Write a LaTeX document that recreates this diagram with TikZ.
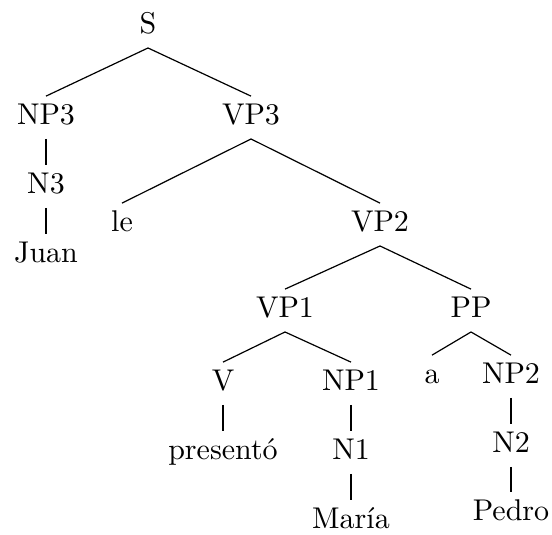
\documentclass[tikz,border=0pt]{standalone}

\begin{document}
\begin{tikzpicture}[x=0.3333pt, y=-0.3333pt,
  cat/.style={anchor=base, inner xsep=0pt, inner ysep=2.2pt, text height=1.6ex, text depth=.6ex}]
  \useasboundingbox (0, 0) rectangle (552, 534);
  \node [cat] (s) at (148, 33) {S};
  \node [cat] (np3) at (46, 124) {NP3};
  \node [cat] (vp3) at (251, 124) {VP3};
  \node [cat] (n3) at (46, 193) {N3};
  \node [cat] (juan) at (46, 262) {Juan};
  \node [cat] (le) at (122, 231) {le};
  \node [cat] (vp2) at (380, 231) {VP2};
  \node [cat] (vp1) at (285, 317) {VP1};
  \node [cat] (pp) at (471, 317) {PP};
  \node [cat] (v) at (223, 390) {V};
  \node [cat] (np1) at (351, 390) {NP1};
  \node [cat] (a) at (432, 383) {a};
  \node [cat] (np2) at (511, 383) {NP2};
  \node [cat] (presento) at (223, 459) {presentó};
  \node [cat] (n1) at (351, 459) {N1};
  \node [cat] (maria) at (351, 528) {María};
  \node [cat] (n2) at (511, 452) {N2};
  \node [cat] (pedro) at (511, 520) {Pedro};
  \foreach \p/\c in {s/np3, s/vp3, np3/n3, n3/juan, vp3/le, vp3/vp2, vp2/vp1, vp2/pp,
                     vp1/v, vp1/np1, v/presento, np1/n1, n1/maria, pp/a, pp/np2, np2/n2, n2/pedro}
    \draw (\p.south) -- (\c.north);
\end{tikzpicture}
\end{document}
